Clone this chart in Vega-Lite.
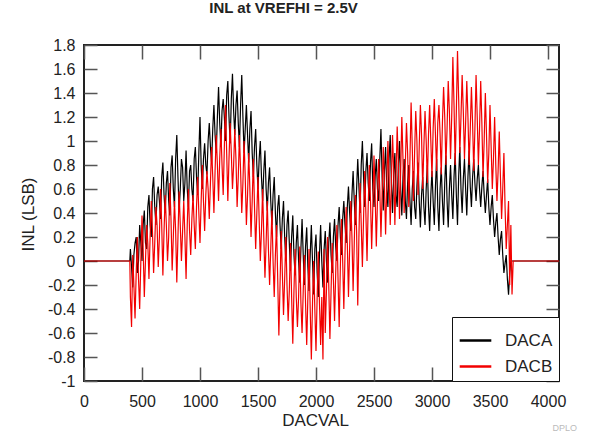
{
"$schema": "https://vega.github.io/schema/vega-lite/v6.json",
"width": 475, "height": 336,
"autosize": {"type": "none"},
"padding": {"left": 84, "top": 45, "right": 36, "bottom": 55},
"background": "white",
"title": {"text": "INL at VREFHI = 2.5V", "fontSize": 15, "fontWeight": "bold", "font": "Liberation Sans", "color": "#222", "anchor": "middle", "dx": -38, "offset": 21},
"config": {"view": {"stroke": "#222", "strokeWidth": 2}},
"datasets": {
"YT": [{"v":-1},{"v":1.8}],
"DACA": [
{"x":0,"y":0},{"x":395,"y":0},
{"x":400,"y":0.1},{"x":410,"y":-0.05},{"x":420,"y":-0.22},{"x":430,"y":0.05},{"x":440,"y":0.15},{"x":450,"y":0.2},{"x":460,"y":-0.1},{"x":470,"y":0.0},{"x":480,"y":0.3},{"x":490,"y":0.15},
{"x":500,"y":0.0},{"x":510,"y":0.3},{"x":520,"y":0.42},{"x":530,"y":0.15},{"x":540,"y":0.1},{"x":550,"y":0.45},{"x":560,"y":0.55},{"x":570,"y":0.3},{"x":580,"y":0.2},{"x":590,"y":0.6},
{"x":600,"y":0.7},{"x":610,"y":0.45},{"x":620,"y":0.3},{"x":630,"y":0.55},{"x":640,"y":0.62},{"x":650,"y":0.5},{"x":660,"y":0.35},{"x":670,"y":0.7},{"x":680,"y":0.82},{"x":690,"y":0.55},
{"x":700,"y":0.4},{"x":710,"y":0.65},{"x":720,"y":0.75},{"x":730,"y":0.5},{"x":740,"y":0.38},{"x":750,"y":0.78},{"x":760,"y":0.88},{"x":770,"y":0.6},{"x":780,"y":0.45},{"x":790,"y":0.85},
{"x":800,"y":1.05},{"x":810,"y":0.7},{"x":820,"y":0.42},{"x":830,"y":0.6},{"x":840,"y":0.85},{"x":850,"y":0.78},{"x":860,"y":0.5},{"x":870,"y":0.65},{"x":880,"y":0.92},{"x":890,"y":0.6},
{"x":900,"y":0.45},{"x":910,"y":0.75},{"x":920,"y":0.8},{"x":930,"y":0.6},{"x":940,"y":0.5},{"x":950,"y":0.85},{"x":960,"y":0.95},{"x":970,"y":0.7},{"x":980,"y":0.55},{"x":990,"y":0.9},
{"x":1000,"y":1.2},{"x":1010,"y":0.8},{"x":1020,"y":0.6},{"x":1030,"y":0.85},{"x":1040,"y":0.98},{"x":1050,"y":0.8},{"x":1060,"y":0.72},{"x":1070,"y":1.0},{"x":1080,"y":1.15},{"x":1090,"y":0.95},
{"x":1100,"y":0.82},{"x":1110,"y":1.1},{"x":1120,"y":1.3},{"x":1130,"y":1.05},{"x":1140,"y":0.9},{"x":1150,"y":1.2},{"x":1160,"y":1.45},{"x":1170,"y":1.15},{"x":1180,"y":0.95},{"x":1190,"y":1.25},
{"x":1200,"y":1.35},{"x":1210,"y":1.2},{"x":1220,"y":1.0},{"x":1230,"y":1.38},{"x":1240,"y":1.5},{"x":1250,"y":1.2},{"x":1260,"y":0.98},{"x":1270,"y":1.35},{"x":1280,"y":1.56},{"x":1290,"y":1.25},
{"x":1300,"y":1.05},{"x":1310,"y":1.3},{"x":1320,"y":1.42},{"x":1330,"y":1.15},{"x":1340,"y":0.95},{"x":1350,"y":1.3},{"x":1360,"y":1.55},{"x":1370,"y":1.2},{"x":1380,"y":0.9},{"x":1390,"y":1.1},
{"x":1400,"y":1.3},{"x":1410,"y":1.05},{"x":1420,"y":0.82},{"x":1430,"y":1.1},{"x":1440,"y":1.25},{"x":1450,"y":0.9},{"x":1460,"y":0.7},{"x":1470,"y":0.95},{"x":1480,"y":1.1},{"x":1490,"y":0.8},
{"x":1500,"y":0.6},{"x":1510,"y":0.85},{"x":1520,"y":1.0},{"x":1530,"y":0.7},{"x":1540,"y":0.5},{"x":1550,"y":0.75},{"x":1560,"y":0.92},{"x":1570,"y":0.6},{"x":1580,"y":0.42},{"x":1590,"y":0.65},
{"x":1600,"y":0.78},{"x":1610,"y":0.5},{"x":1620,"y":0.3},{"x":1630,"y":0.55},{"x":1640,"y":0.7},{"x":1650,"y":0.4},{"x":1660,"y":0.2},{"x":1670,"y":0.45},{"x":1680,"y":0.55},{"x":1690,"y":0.3},
{"x":1700,"y":0.1},{"x":1710,"y":0.35},{"x":1720,"y":0.5},{"x":1730,"y":0.2},{"x":1740,"y":0.0},{"x":1750,"y":0.3},{"x":1760,"y":0.42},{"x":1770,"y":0.15},{"x":1780,"y":-0.08},{"x":1790,"y":0.2},
{"x":1800,"y":0.38},{"x":1810,"y":0.05},{"x":1820,"y":-0.12},{"x":1830,"y":0.15},{"x":1840,"y":0.3},{"x":1850,"y":0.0},{"x":1860,"y":-0.18},{"x":1870,"y":0.1},{"x":1880,"y":0.35},{"x":1890,"y":0.05},
{"x":1900,"y":-0.2},{"x":1910,"y":0.12},{"x":1920,"y":0.28},{"x":1930,"y":-0.05},{"x":1940,"y":-0.25},{"x":1950,"y":0.05},{"x":1960,"y":0.3},{"x":1970,"y":0.0},{"x":1980,"y":-0.28},{"x":1990,"y":0.1},
{"x":2000,"y":0.22},{"x":2010,"y":-0.1},{"x":2020,"y":-0.3},{"x":2030,"y":0.05},{"x":2040,"y":0.3},{"x":2050,"y":0.0},{"x":2060,"y":-0.22},{"x":2070,"y":0.1},{"x":2080,"y":0.25},{"x":2090,"y":0.0},
{"x":2100,"y":-0.18},{"x":2110,"y":0.15},{"x":2120,"y":0.32},{"x":2130,"y":0.05},{"x":2140,"y":-0.1},{"x":2150,"y":0.2},{"x":2160,"y":0.35},{"x":2170,"y":0.12},{"x":2180,"y":0.0},{"x":2190,"y":0.3},
{"x":2200,"y":0.45},{"x":2210,"y":0.2},{"x":2220,"y":0.05},{"x":2230,"y":0.35},{"x":2240,"y":0.5},{"x":2250,"y":0.3},{"x":2260,"y":0.15},{"x":2270,"y":0.45},{"x":2280,"y":0.62},{"x":2290,"y":0.4},
{"x":2300,"y":0.25},{"x":2310,"y":0.55},{"x":2320,"y":0.75},{"x":2330,"y":0.5},{"x":2340,"y":0.3},{"x":2350,"y":0.6},{"x":2360,"y":0.85},{"x":2370,"y":0.62},{"x":2380,"y":0.4},{"x":2390,"y":0.8},
{"x":2400,"y":1.0},{"x":2410,"y":0.7},{"x":2420,"y":0.45},{"x":2430,"y":0.75},{"x":2440,"y":0.9},{"x":2450,"y":0.65},{"x":2460,"y":0.5},{"x":2470,"y":0.82},{"x":2480,"y":0.98},{"x":2490,"y":0.6},
{"x":2500,"y":0.45},{"x":2510,"y":0.7},{"x":2520,"y":0.85},{"x":2530,"y":0.6},{"x":2540,"y":0.5},{"x":2550,"y":0.85},{"x":2560,"y":1.1},{"x":2570,"y":0.7},{"x":2580,"y":0.42},{"x":2590,"y":0.75},
{"x":2600,"y":0.95},{"x":2610,"y":0.6},{"x":2620,"y":0.45},{"x":2630,"y":0.85},{"x":2640,"y":1.05},{"x":2650,"y":0.65},{"x":2660,"y":0.4},{"x":2670,"y":0.72},{"x":2680,"y":0.9},{"x":2690,"y":0.55},
{"x":2700,"y":0.45},{"x":2710,"y":0.8},{"x":2720,"y":1.0},{"x":2730,"y":0.6},{"x":2740,"y":0.38},{"x":2750,"y":0.7},{"x":2760,"y":0.85},{"x":2770,"y":0.5},{"x":2780,"y":0.35},{"x":2790,"y":0.65},
{"x":2800,"y":0.8},{"x":2810,"y":0.5},{"x":2820,"y":0.3},{"x":2830,"y":0.6},{"x":2840,"y":0.75},{"x":2850,"y":0.45},{"x":2860,"y":0.35},{"x":2870,"y":0.62},{"x":2880,"y":0.82},{"x":2890,"y":0.5},
{"x":2900,"y":0.28},{"x":2910,"y":0.55},{"x":2920,"y":0.7},{"x":2930,"y":0.45},{"x":2940,"y":0.3},{"x":2950,"y":0.6},{"x":2960,"y":0.8},{"x":2970,"y":0.45},{"x":2980,"y":0.25},{"x":2990,"y":0.55},
{"x":3000,"y":0.75},{"x":3010,"y":0.5},{"x":3020,"y":0.3},{"x":3030,"y":0.62},{"x":3040,"y":0.85},{"x":3050,"y":0.45},{"x":3060,"y":0.25},{"x":3070,"y":0.6},{"x":3080,"y":0.78},{"x":3090,"y":0.5},
{"x":3100,"y":0.3},{"x":3110,"y":0.65},{"x":3120,"y":0.88},{"x":3130,"y":0.5},{"x":3140,"y":0.28},{"x":3150,"y":0.6},{"x":3160,"y":0.8},{"x":3170,"y":0.55},{"x":3180,"y":0.35},{"x":3190,"y":0.7},
{"x":3200,"y":0.9},{"x":3210,"y":0.55},{"x":3220,"y":0.3},{"x":3230,"y":0.7},{"x":3240,"y":0.95},{"x":3250,"y":0.6},{"x":3260,"y":0.4},{"x":3270,"y":0.68},{"x":3280,"y":0.85},{"x":3290,"y":0.6},
{"x":3300,"y":0.38},{"x":3310,"y":0.7},{"x":3320,"y":0.92},{"x":3330,"y":0.62},{"x":3340,"y":0.45},{"x":3350,"y":0.7},{"x":3360,"y":0.85},{"x":3370,"y":0.65},{"x":3380,"y":0.5},{"x":3390,"y":0.68},
{"x":3400,"y":0.8},{"x":3410,"y":0.6},{"x":3420,"y":0.45},{"x":3430,"y":0.62},{"x":3440,"y":0.75},{"x":3450,"y":0.55},{"x":3460,"y":0.4},{"x":3470,"y":0.55},{"x":3480,"y":0.68},{"x":3490,"y":0.45},
{"x":3500,"y":0.3},{"x":3510,"y":0.45},{"x":3520,"y":0.55},{"x":3530,"y":0.35},{"x":3540,"y":0.2},{"x":3550,"y":0.32},{"x":3560,"y":0.4},{"x":3570,"y":0.2},{"x":3580,"y":0.05},{"x":3590,"y":0.18},
{"x":3600,"y":0.25},{"x":3610,"y":0.05},{"x":3620,"y":-0.1},{"x":3630,"y":-0.02},{"x":3640,"y":0.05},{"x":3650,"y":-0.15},{"x":3660,"y":-0.28},{"x":3670,"y":-0.1},{"x":3680,"y":0},
{"x":4095,"y":0}
],
"DACB": [
{"x":0,"y":0},{"x":395,"y":0},
{"x":400,"y":-0.3},{"x":410,"y":-0.55},{"x":420,"y":0.05},{"x":430,"y":-0.2},{"x":440,"y":-0.48},{"x":450,"y":-0.1},{"x":460,"y":0.2},{"x":470,"y":-0.15},{"x":480,"y":-0.4},{"x":490,"y":0.0},
{"x":500,"y":0.38},{"x":510,"y":0.1},{"x":520,"y":-0.3},{"x":530,"y":0.0},{"x":540,"y":0.3},{"x":550,"y":0.15},{"x":560,"y":-0.15},{"x":570,"y":0.2},{"x":580,"y":0.5},{"x":590,"y":0.25},
{"x":600,"y":-0.1},{"x":610,"y":0.15},{"x":620,"y":0.45},{"x":630,"y":0.3},{"x":640,"y":-0.05},{"x":650,"y":0.2},{"x":660,"y":0.6},{"x":670,"y":0.3},{"x":680,"y":-0.12},{"x":690,"y":0.25},
{"x":700,"y":0.55},{"x":710,"y":0.3},{"x":720,"y":0.0},{"x":730,"y":0.2},{"x":740,"y":0.65},{"x":750,"y":0.35},{"x":760,"y":-0.08},{"x":770,"y":0.2},{"x":780,"y":0.5},{"x":790,"y":0.25},
{"x":800,"y":-0.18},{"x":810,"y":0.2},{"x":820,"y":0.58},{"x":830,"y":0.3},{"x":840,"y":0.0},{"x":850,"y":0.25},{"x":860,"y":0.5},{"x":870,"y":0.2},{"x":880,"y":-0.15},{"x":890,"y":0.3},
{"x":900,"y":0.6},{"x":910,"y":0.25},{"x":920,"y":0.05},{"x":930,"y":0.35},{"x":940,"y":0.55},{"x":950,"y":0.3},{"x":960,"y":0.1},{"x":970,"y":0.45},{"x":980,"y":0.7},{"x":990,"y":0.4},
{"x":1000,"y":0.15},{"x":1010,"y":0.5},{"x":1020,"y":0.8},{"x":1030,"y":0.5},{"x":1040,"y":0.25},{"x":1050,"y":0.55},{"x":1060,"y":0.75},{"x":1070,"y":0.6},{"x":1080,"y":0.35},{"x":1090,"y":0.65},
{"x":1100,"y":0.95},{"x":1110,"y":0.7},{"x":1120,"y":0.4},{"x":1130,"y":0.75},{"x":1140,"y":1.05},{"x":1150,"y":0.8},{"x":1160,"y":0.5},{"x":1170,"y":0.85},{"x":1180,"y":1.1},{"x":1190,"y":0.8},
{"x":1200,"y":0.55},{"x":1210,"y":0.95},{"x":1220,"y":1.3},{"x":1230,"y":0.9},{"x":1240,"y":0.5},{"x":1250,"y":0.85},{"x":1260,"y":1.15},{"x":1270,"y":0.9},{"x":1280,"y":0.6},{"x":1290,"y":0.8},
{"x":1300,"y":1.1},{"x":1310,"y":0.85},{"x":1320,"y":0.45},{"x":1330,"y":0.7},{"x":1340,"y":1.05},{"x":1350,"y":0.75},{"x":1360,"y":0.4},{"x":1370,"y":0.65},{"x":1380,"y":1.0},{"x":1390,"y":0.7},
{"x":1400,"y":0.3},{"x":1410,"y":0.55},{"x":1420,"y":0.9},{"x":1430,"y":0.6},{"x":1440,"y":0.2},{"x":1450,"y":0.5},{"x":1460,"y":0.85},{"x":1470,"y":0.45},{"x":1480,"y":0.1},{"x":1490,"y":0.4},
{"x":1500,"y":0.7},{"x":1510,"y":0.35},{"x":1520,"y":0.0},{"x":1530,"y":0.25},{"x":1540,"y":0.6},{"x":1550,"y":0.2},{"x":1560,"y":-0.14},{"x":1570,"y":0.15},{"x":1580,"y":0.5},{"x":1590,"y":0.1},
{"x":1600,"y":-0.2},{"x":1610,"y":0.1},{"x":1620,"y":0.42},{"x":1630,"y":0.0},{"x":1640,"y":-0.3},{"x":1650,"y":0.05},{"x":1660,"y":0.3},{"x":1670,"y":-0.15},{"x":1680,"y":-0.62},{"x":1690,"y":-0.2},
{"x":1700,"y":0.25},{"x":1710,"y":-0.1},{"x":1720,"y":-0.45},{"x":1730,"y":-0.15},{"x":1740,"y":0.2},{"x":1750,"y":-0.2},{"x":1760,"y":-0.5},{"x":1770,"y":-0.25},{"x":1780,"y":0.15},{"x":1790,"y":-0.3},
{"x":1800,"y":-0.69},{"x":1810,"y":-0.25},{"x":1820,"y":0.1},{"x":1830,"y":-0.3},{"x":1840,"y":-0.55},{"x":1850,"y":-0.3},{"x":1860,"y":0.12},{"x":1870,"y":-0.35},{"x":1880,"y":-0.6},{"x":1890,"y":-0.25},
{"x":1900,"y":0.05},{"x":1910,"y":-0.35},{"x":1920,"y":-0.7},{"x":1930,"y":-0.3},{"x":1940,"y":0.1},{"x":1950,"y":-0.4},{"x":1960,"y":-0.82},{"x":1970,"y":-0.35},{"x":1980,"y":0.0},{"x":1990,"y":-0.4},
{"x":2000,"y":-0.75},{"x":2010,"y":-0.3},{"x":2020,"y":0.08},{"x":2030,"y":-0.35},{"x":2040,"y":-0.7},{"x":2050,"y":-0.3},{"x":2060,"y":-0.82},{"x":2070,"y":0.1},
{"x":2080,"y":-0.6},{"x":2090,"y":-0.25},{"x":2100,"y":0.2},{"x":2110,"y":-0.2},{"x":2120,"y":-0.65},{"x":2130,"y":-0.25},{"x":2140,"y":0.15},{"x":2150,"y":-0.15},{"x":2160,"y":-0.5},{"x":2170,"y":-0.1},
{"x":2180,"y":0.3},{"x":2190,"y":-0.15},{"x":2200,"y":-0.55},{"x":2210,"y":-0.05},{"x":2220,"y":0.35},{"x":2230,"y":0.0},{"x":2240,"y":-0.4},{"x":2250,"y":0.05},{"x":2260,"y":0.45},{"x":2270,"y":0.15},
{"x":2280,"y":-0.3},{"x":2290,"y":0.1},{"x":2300,"y":0.5},{"x":2310,"y":0.2},{"x":2320,"y":-0.25},{"x":2330,"y":0.15},{"x":2340,"y":0.55},{"x":2350,"y":0.25},{"x":2360,"y":-0.37},{"x":2370,"y":0.2},
{"x":2380,"y":0.65},{"x":2390,"y":0.3},{"x":2400,"y":-0.05},{"x":2410,"y":0.35},{"x":2420,"y":0.75},{"x":2430,"y":0.4},{"x":2440,"y":0.0},{"x":2450,"y":0.45},{"x":2460,"y":0.8},{"x":2470,"y":0.5},
{"x":2480,"y":0.1},{"x":2490,"y":0.45},{"x":2500,"y":0.88},{"x":2510,"y":0.55},{"x":2520,"y":0.12},{"x":2530,"y":0.5},{"x":2540,"y":0.85},{"x":2550,"y":0.6},{"x":2560,"y":0.2},{"x":2570,"y":0.55},
{"x":2580,"y":0.95},{"x":2590,"y":0.65},{"x":2600,"y":0.22},{"x":2610,"y":0.6},{"x":2620,"y":1.0},{"x":2630,"y":0.7},{"x":2640,"y":0.3},{"x":2650,"y":0.65},{"x":2660,"y":1.05},{"x":2670,"y":0.75},
{"x":2680,"y":0.3},{"x":2690,"y":0.7},{"x":2700,"y":1.12},{"x":2710,"y":0.8},{"x":2720,"y":0.35},{"x":2730,"y":0.75},{"x":2740,"y":1.2},{"x":2750,"y":0.85},{"x":2760,"y":0.4},{"x":2770,"y":0.8},
{"x":2780,"y":1.15},{"x":2790,"y":0.9},{"x":2800,"y":0.45},{"x":2810,"y":0.85},{"x":2820,"y":1.32},{"x":2830,"y":0.95},{"x":2840,"y":0.5},{"x":2850,"y":0.9},{"x":2860,"y":1.25},{"x":2870,"y":1.0},
{"x":2880,"y":0.55},{"x":2890,"y":0.95},{"x":2900,"y":1.3},{"x":2910,"y":1.05},{"x":2920,"y":0.6},{"x":2930,"y":0.95},{"x":2940,"y":1.25},{"x":2950,"y":1.0},{"x":2960,"y":0.65},{"x":2970,"y":1.05},
{"x":2980,"y":1.3},{"x":2990,"y":1.0},{"x":3000,"y":0.7},{"x":3010,"y":1.1},{"x":3020,"y":1.35},{"x":3030,"y":1.05},{"x":3040,"y":0.75},{"x":3050,"y":1.15},{"x":3060,"y":1.3},{"x":3070,"y":1.05},
{"x":3080,"y":0.72},{"x":3090,"y":1.15},{"x":3100,"y":1.45},{"x":3110,"y":1.2},{"x":3120,"y":0.8},{"x":3130,"y":1.1},{"x":3140,"y":1.5},{"x":3150,"y":1.25},{"x":3160,"y":0.85},{"x":3170,"y":1.2},
{"x":3180,"y":1.7},{"x":3190,"y":1.3},{"x":3200,"y":0.8},{"x":3210,"y":1.25},{"x":3220,"y":1.75},{"x":3230,"y":1.35},{"x":3240,"y":0.9},{"x":3250,"y":1.2},{"x":3260,"y":1.55},{"x":3270,"y":1.25},
{"x":3280,"y":0.85},{"x":3290,"y":1.15},{"x":3300,"y":1.5},{"x":3310,"y":1.2},{"x":3320,"y":0.8},{"x":3330,"y":1.1},{"x":3340,"y":1.45},{"x":3350,"y":1.15},{"x":3360,"y":0.75},{"x":3370,"y":1.1},
{"x":3380,"y":1.55},{"x":3390,"y":1.2},{"x":3400,"y":0.8},{"x":3410,"y":1.1},{"x":3420,"y":1.5},{"x":3430,"y":1.15},{"x":3440,"y":0.7},{"x":3450,"y":1.0},{"x":3460,"y":1.4},{"x":3470,"y":1.05},
{"x":3480,"y":0.65},{"x":3490,"y":0.9},{"x":3500,"y":1.3},{"x":3510,"y":0.95},{"x":3520,"y":0.6},{"x":3530,"y":0.85},{"x":3540,"y":1.2},{"x":3550,"y":0.8},{"x":3560,"y":0.5},{"x":3570,"y":0.75},
{"x":3580,"y":1.08},{"x":3590,"y":0.7},{"x":3600,"y":0.35},{"x":3610,"y":0.6},{"x":3620,"y":0.9},{"x":3630,"y":0.45},{"x":3640,"y":0.1},{"x":3650,"y":0.3},{"x":3660,"y":0.5},
{"x":3670,"y":-0.2},{"x":3680,"y":0.3},{"x":3690,"y":-0.28},{"x":3700,"y":0},
{"x":4095,"y":0}
]
},
"layer": [
{
"data": {"name": "DACA"},
"mark": {"type": "line", "strokeWidth": 1.2, "clip": true},
"encoding": {
"x": {"field": "x", "type": "quantitative", "scale": {"domain": [0, 4095], "nice": false, "zero": false},
 "axis": {"orient": "bottom", "values": [0,500,1000,1500,2000,2500,3000,3500,4000], "format": "d", "ticks": false, "grid": true, "gridDash": [14, 308, 14], "gridColor": "#555", "gridWidth": 1.5, "gridOpacity": 1, "domain": false, "labelFlush": false, "labelOverlap": false, "labelFontSize": 16, "labelFont": "Liberation Sans", "labelColor": "#222", "labelPadding": 12, "title": "DACVAL", "titleFontSize": 17, "titleFont": "Liberation Sans", "titleFontWeight": "normal", "titleColor": "#222", "titleX": 231, "titleY": 39, "titleBaseline": "middle", "titleAlign": "center"}},
"y": {"field": "y", "type": "quantitative", "scale": {"domain": [-1, 1.8], "nice": false, "zero": false},
 "axis": {"orient": "left", "values": [-1,-0.8,-0.6,-0.4,-0.2,0,0.2,0.4,0.6,0.8,1,1.2,1.4,1.6,1.8], "labelExpr": "replace(format(datum.value, '~g'), '−', '-')", "ticks": false, "grid": true, "gridDash": [13, 449, 13], "gridColor": "#555", "gridWidth": 1.5, "gridOpacity": 1, "domain": false, "labelFontSize": 16, "labelFont": "Liberation Sans", "labelColor": "#222", "labelPadding": 9, "labelOverlap": false, "title": "INL (LSB)", "titleFontSize": 17, "titleFont": "Liberation Sans", "titleFontWeight": "normal", "titleColor": "#222", "titleX": -56, "titleY": 169, "titleAngle": -90, "titleBaseline": "middle", "titleAlign": "center"}},
"color": {"datum": "DACA", "type": "nominal", "scale": {"domain": ["DACA", "DACB"], "range": ["#000000", "#f20000"]},
 "legend": {"title": null, "orient": "bottom-right", "offset": 0, "strokeColor": "#111", "fillColor": "white", "padding": 6, "symbolType": "stroke", "symbolSize": 1000, "symbolStrokeWidth": 2.5, "labelFontSize": 17, "labelFont": "Liberation Sans", "labelColor": "#222", "labelOffset": 12, "rowPadding": -11}}
}
},
{
"data": {"name": "DACB"},
"mark": {"type": "line", "strokeWidth": 1.2, "clip": true},
"encoding": {
"x": {"field": "x", "type": "quantitative", "axis": null},
"y": {"field": "y", "type": "quantitative", "axis": null},
"color": {"datum": "DACB", "type": "nominal"}
}
},
{
"data": {"name": "YT"},
"mark": {"type": "point", "opacity": 0},
"encoding": {
"y": {"field": "v", "type": "quantitative", "axis": {"orient": "right", "values": [0], "ticks": false, "labels": false, "domain": false, "grid": false, "title": "DPLO", "titleFontSize": 9, "titleFont": "Liberation Sans", "titleFontWeight": "normal", "titleColor": "#bbb", "titleX": -7, "titleY": 382, "titleAngle": 0, "titleAlign": "left", "titleBaseline": "middle"}},
"x": {"datum": 4095, "type": "quantitative", "axis": null}
}
}
],
"resolve": {"axis": {"x": "independent", "y": "independent"}}
}
